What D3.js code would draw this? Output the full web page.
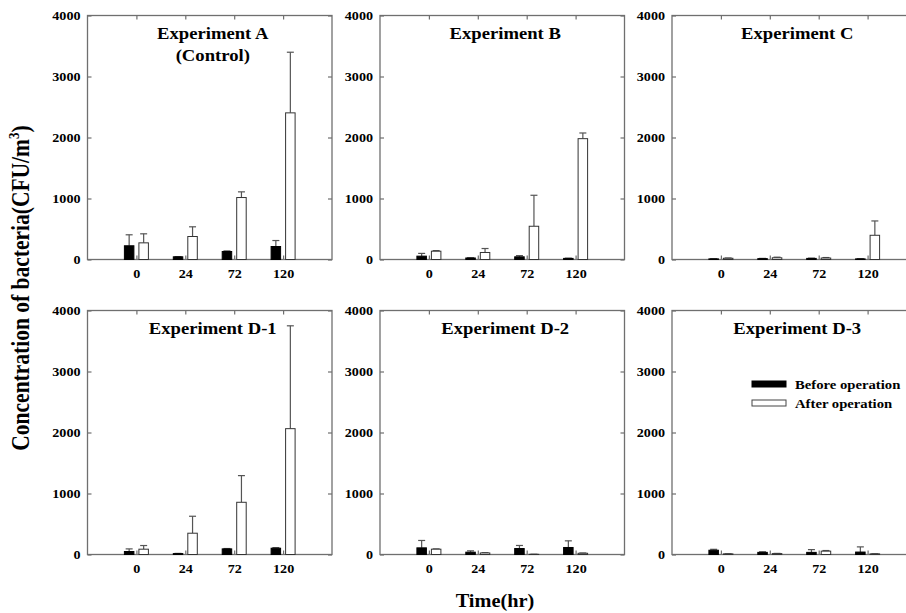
<!DOCTYPE html>
<html><head><meta charset="utf-8">
<script src="https://cdn.jsdelivr.net/npm/d3@7"></script>
<style>
html,body{margin:0;padding:0;background:#fff;}
svg{display:block;}
text{font-family:"Liberation Serif","Times New Roman",serif;font-weight:bold;fill:#000;}
</style></head>
<body>
<svg id="chart" width="906" height="613"></svg>
<script>
// ---- data ----
const timeLabels = ["0", "24", "72", "120"];
const panelTitles = [["Experiment A", "(Control)"], ["Experiment B"], ["Experiment C"],
                     ["Experiment D-1"], ["Experiment D-2"], ["Experiment D-3"]];
const beforeMean = [[225, 44, 131, 213], [55, 25, 44, 18], [10, 14, 18, 10],
                    [49, 15, 92, 103], [109, 38, 98, 115], [70, 35, 35, 40]];
const beforeErr  = [[180, 4, 10, 98], [45, 4, 20, 4], [4, 4, 4, 4],
                    [43, 3, 6, 10], [121, 22, 50, 109], [15, 10, 45, 85]];
const afterMean  = [[273, 377, 1016, 2404], [136, 115, 545, 1981], [20, 28, 24, 397],
                    [87, 349, 856, 2063], [87, 25, 3, 20], [10, 15, 55, 10]];
const afterErr   = [[148, 159, 93, 994], [10, 65, 508, 93], [5, 10, 8, 235],
                    [60, 278, 437, 1686], [5, 5, 1, 5], [3, 3, 10, 3]];
const yTicks = [0, 1000, 2000, 3000, 4000];
const legendLabels = ["Before operation", "After operation"];
const xTitle = "Time(hr)";
const yTitle = "Concentration of bacteria(CFU/m";

// ---- layout ----
const colLeft = [87.5, 380, 672];
const rowTop = [15.5, 310.5];
const pw = 244.5, ph = 244;
const SX = 1.13;           // horizontal stretch of the original lettering
const frameColor = "#6f6f6f";
const errColor = "#555";

const svg = d3.select("#chart");

function stretch(sel) {
  sel.each(function () {
    const len = this.getComputedTextLength();
    d3.select(this).attr("textLength", len * SX).attr("lengthAdjust", "spacingAndGlyphs");
  });
}

const x = d3.scalePoint().domain(timeLabels).range([0, pw]).padding(1);
const y = d3.scaleLinear().domain([0, 4000]).range([ph, 0]);

const barW = 9.5;
const offBefore = -12, offAfter = 2.5;
const capW = 7;

panelTitles.forEach((title, p) => {
  const col = p % 3, row = Math.floor(p / 3);
  const g = svg.append("g").attr("transform", `translate(${colLeft[col]},${rowTop[row]})`);

  g.append("rect").attr("x", 0).attr("y", 0).attr("width", pw).attr("height", ph)
    .attr("fill", "none").attr("stroke", frameColor).attr("stroke-width", 1.3);

  const ax = (a) => a.call(s => s.select(".domain").remove())
    .call(s => s.selectAll(".tick line").attr("stroke", frameColor).attr("stroke-width", 1.2));

  g.append("g").call(d3.axisLeft(y).tickValues(yTicks).tickSize(-4).tickPadding(7).tickFormat(d3.format("d")))
    .call(ax)
    .call(s => s.selectAll("text").attr("font-size", 12.5).attr("font-family", null).attr("fill", "#000").call(stretch));
  g.append("g").attr("transform", `translate(${pw},0)`)
    .call(d3.axisRight(y).tickValues(yTicks).tickSize(-4).tickFormat(""))
    .call(ax);
  g.append("g").attr("transform", `translate(0,${ph})`)
    .call(d3.axisBottom(x).tickSize(-4).tickPadding(10))
    .call(ax)
    .call(s => s.selectAll("text").attr("font-size", 12.5).attr("font-family", null).attr("fill", "#000").call(stretch));
  g.append("g")
    .call(d3.axisTop(x).tickSize(-4).tickFormat(""))
    .call(ax);

  const series = [
    {mean: beforeMean[p], err: beforeErr[p], off: offBefore, fill: "#000", stroke: "#000"},
    {mean: afterMean[p], err: afterErr[p], off: offAfter, fill: "#fff", stroke: "#333"}
  ];
  series.forEach(s => {
    const data = timeLabels.map((t, i) => ({t, v: s.mean[i], e: s.err[i]}));
    const bg = g.append("g");
    bg.selectAll("line.err").data(data).join("line")
      .attr("x1", d => x(d.t) + s.off + barW / 2).attr("x2", d => x(d.t) + s.off + barW / 2)
      .attr("y1", d => y(d.v)).attr("y2", d => y(d.v + d.e))
      .attr("stroke", errColor).attr("stroke-width", 1.2);
    bg.selectAll("line.cap").data(data).join("line")
      .attr("x1", d => x(d.t) + s.off + barW / 2 - capW / 2).attr("x2", d => x(d.t) + s.off + barW / 2 + capW / 2)
      .attr("y1", d => y(d.v + d.e)).attr("y2", d => y(d.v + d.e))
      .attr("stroke", errColor).attr("stroke-width", 1.2);
    bg.selectAll("rect").data(data).join("rect")
      .attr("x", d => x(d.t) + s.off).attr("width", barW)
      .attr("y", d => y(d.v)).attr("height", d => ph - y(d.v))
      .attr("fill", s.fill).attr("stroke", s.stroke).attr("stroke-width", 1);
  });

  title.forEach((line, li) => {
    g.append("text").attr("text-anchor", "middle").attr("font-size", 16.5)
      .attr("transform", `translate(${pw / 2 + 3},${23.5 + li * 22}) scale(${SX},1)`)
      .text(line);
  });

  if (p === 5) {
    legendLabels.forEach((lab, li) => {
      const ly = 73.5 + li * 19;
      g.append("rect").attr("x", 80).attr("y", ly - 3).attr("width", 34).attr("height", 6)
        .attr("fill", li === 0 ? "#000" : "#fff").attr("stroke", li === 0 ? "#000" : "#444").attr("stroke-width", 1);
      g.append("text").attr("font-size", 13)
        .attr("transform", `translate(123,${ly + 4.5}) scale(${SX},1)`)
        .text(lab);
    });
  }
});

svg.append("text").attr("text-anchor", "middle").attr("font-size", 18)
  .attr("transform", `translate(495,607) scale(${SX},1)`).text(xTitle);
const yt = svg.append("text").attr("text-anchor", "middle").attr("font-size", 21.5)
  .attr("transform", `translate(29,288) scale(${SX},1) rotate(-90)`);
yt.append("tspan").text(yTitle);
yt.append("tspan").attr("font-size", 13).attr("dy", -9).text("3");
yt.append("tspan").attr("dy", 9).text(")");
</script>
</body></html>
